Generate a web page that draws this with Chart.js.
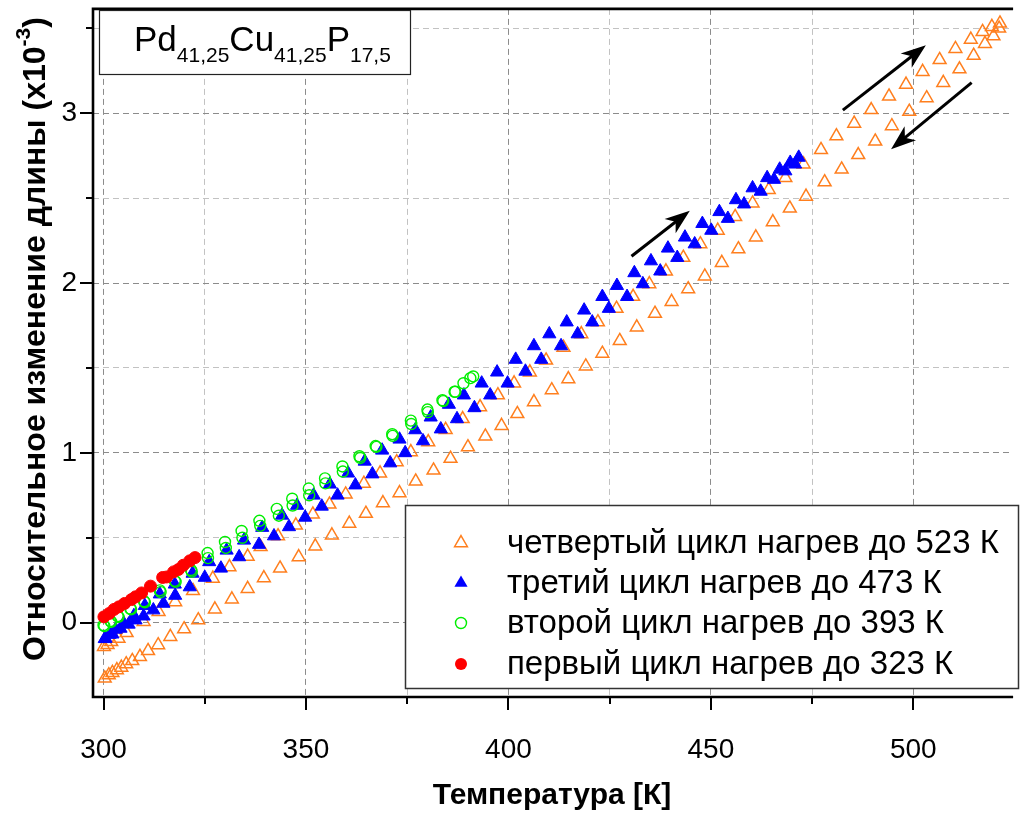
<!DOCTYPE html>
<html>
<head>
<meta charset="utf-8">
<title>Pd41,25Cu41,25P17,5</title>
<script src="https://cdn.jsdelivr.net/npm/chart.js@4.4.1/dist/chart.umd.min.js"></script>
<style>
  html, body { margin: 0; padding: 0; background: #fff; }
  #box { width: 1020px; height: 814px; }
</style>
</head>
<body>
<div id="box"><canvas id="myChart" width="1020" height="814"></canvas></div>
<script>
// --- dati (T in K, dL/L in 10^-3) ---
const xTicks = [300, 325, 350, 375, 400, 425, 450, 475, 500];
const yTicks = [0, 0.5, 1, 1.5, 2, 2.5, 3, 3.5];

const legendLabels = [
  'четвертый цикл нагрев до 523 К',
  'третий цикл нагрев до 473 К',
  'второй цикл нагрев до 393 К',
  'первый цикл нагрев до 323 К'
];

// quarto ciclo: riscaldamento + raffreddamento
const c4HeatT = [300.1, 301.0, 301.9, 303.7, 305.7, 309.9, 313.6, 317.7, 322.1, 327.0, 331.1, 335.6, 338.8, 343.1, 347.5, 351.7, 355.8, 359.8, 364.3, 368.3, 372.4, 375.9, 380.2, 384.5, 388.7, 393.0, 397.4, 401.4, 405.3, 409.3, 413.6, 418.0, 422.1, 426.7, 430.8, 434.8, 438.9, 443.2, 447.4, 451.7, 456.0, 460.3, 464.3, 468.4, 472.9, 477.2, 481.0, 485.4, 489.6, 494.0, 498.2, 502.3, 506.5, 510.4, 514.2, 517.1, 519.4, 521.4];
const c4HeatL = [-0.142, -0.13, -0.113, -0.093, -0.06, 0.005, 0.064, 0.122, 0.187, 0.26, 0.328, 0.39, 0.446, 0.51, 0.574, 0.638, 0.697, 0.756, 0.819, 0.88, 0.946, 1.005, 1.064, 1.136, 1.20, 1.27, 1.34, 1.41, 1.475, 1.545, 1.62, 1.70, 1.77, 1.85, 1.92, 1.995, 2.07, 2.15, 2.23, 2.31, 2.39, 2.47, 2.55, 2.62, 2.70, 2.785, 2.866, 2.94, 3.02, 3.10, 3.17, 3.245, 3.315, 3.38, 3.435, 3.48, 3.51, 3.53];
const c4CoolT = [521.2, 519.8, 517.7, 514.9, 511.4, 507.4, 503.3, 499.0, 494.7, 490.6, 486.4, 482.3, 478.1, 473.5, 469.5, 465.3, 461.1, 456.8, 452.7, 448.5, 444.4, 440.3, 436.2, 431.7, 427.5, 423.2, 419.1, 414.8, 410.7, 406.3, 402.2, 398.3, 394.3, 390.0, 385.7, 381.5, 377.1, 373.1, 369.0, 364.8, 360.7, 356.4, 352.3, 348.2, 343.6, 339.6, 335.6, 331.7, 327.5, 323.4, 319.9, 316.5, 313.5, 311.0, 309.0, 307.1, 305.6, 304.4, 303.3, 302.2, 301.3, 300.3];
const c4CoolL = [3.50, 3.455, 3.41, 3.34, 3.26, 3.18, 3.09, 3.01, 2.925, 2.835, 2.755, 2.67, 2.595, 2.51, 2.44, 2.36, 2.27, 2.20, 2.12, 2.04, 1.965, 1.89, 1.82, 1.74, 1.66, 1.585, 1.51, 1.435, 1.37, 1.30, 1.23, 1.16, 1.097, 1.034, 0.966, 0.897, 0.832, 0.764, 0.705, 0.642, 0.584, 0.515, 0.45, 0.387, 0.32, 0.263, 0.20, 0.138, 0.079, 0.015, -0.038, -0.083, -0.132, -0.166, -0.201, -0.225, -0.244, -0.264, -0.279, -0.295, -0.309, -0.328];

// terzo ciclo
const c3HeatT = [300.3, 301.5, 303.0, 305.0, 307.5, 310.2, 313.9, 317.6, 322.0, 326.1, 330.4, 334.7, 339.2, 344.1, 347.8, 351.9, 355.9, 360.4, 364.5, 368.8, 373.1, 377.0, 380.8, 385.3, 389.0, 393.4, 397.2, 401.8, 406.3, 410.1, 414.4, 418.7, 423.2, 426.8, 431.1, 435.2, 439.4, 443.6, 447.9, 452.1, 456.2, 460.3, 463.9, 467.0, 469.6, 471.7];
const c3HeatL = [-0.095, -0.07, -0.04, -0.005, 0.04, 0.10, 0.168, 0.226, 0.29, 0.358, 0.426, 0.485, 0.56, 0.632, 0.69, 0.75, 0.815, 0.88, 0.95, 1.015, 1.08, 1.135, 1.21, 1.285, 1.34, 1.41, 1.475, 1.55, 1.63, 1.70, 1.77, 1.84, 1.92, 1.985, 2.06, 2.13, 2.205, 2.27, 2.35, 2.42, 2.49, 2.56, 2.62, 2.67, 2.71, 2.74];
const c3CoolT = [470.8, 468.4, 465.6, 462.3, 458.2, 454.2, 450.1, 446.0, 441.7, 437.5, 433.2, 429.3, 424.8, 420.7, 417.1, 413.0, 408.1, 404.2, 399.8, 395.5, 391.6, 387.3, 383.3, 378.9, 374.5, 370.8, 366.4, 362.2, 357.8, 353.9, 349.8, 345.8, 342.1, 338.4, 333.5, 329.0, 325.0, 321.3, 317.7, 314.8, 312.3, 309.9, 307.9, 306.2, 304.2, 302.2, 300.5];
const c3CoolL = [2.70, 2.66, 2.61, 2.54, 2.465, 2.38, 2.31, 2.23, 2.15, 2.07, 1.995, 1.92, 1.85, 1.77, 1.70, 1.63, 1.55, 1.48, 1.41, 1.34, 1.265, 1.2, 1.14, 1.07, 1.0, 0.94, 0.875, 0.81, 0.75, 0.685, 0.62, 0.564, 0.51, 0.46, 0.387, 0.32, 0.266, 0.21, 0.16, 0.113, 0.074, 0.038, 0.015, -0.01, -0.034, -0.068, -0.093];

// secondo ciclo
const c2HeatT = [300.0, 301.7, 303.5, 306.6, 310.0, 313.9, 317.6, 321.6, 325.7, 330.0, 334.1, 338.5, 342.8, 346.6, 350.7, 354.7, 359.0, 363.2, 367.2, 371.3, 375.9, 380.0, 383.7, 386.7, 388.9, 391.3];
const c2HeatL = [-0.015, 0.009, 0.038, 0.083, 0.126, 0.19, 0.246, 0.31, 0.41, 0.475, 0.54, 0.60, 0.67, 0.73, 0.79, 0.85, 0.92, 0.98, 1.04, 1.11, 1.19, 1.255, 1.31, 1.36, 1.41, 1.45];
const c2CoolT = [390.6, 386.9, 383.9, 380.1, 376.0, 371.4, 367.4, 363.4, 359.1, 354.8, 350.8, 346.7, 343.3, 338.7, 334.3, 330.2, 325.8, 321.8, 317.8, 314.1, 310.2, 306.8, 303.7, 301.9, 300.2];
const c2CoolL = [1.44, 1.36, 1.305, 1.24, 1.17, 1.10, 1.035, 0.97, 0.89, 0.82, 0.75, 0.69, 0.63, 0.57, 0.50, 0.44, 0.38, 0.30, 0.24, 0.18, 0.12, 0.078, 0.034, 0.005, -0.02];

// primo ciclo
const c1T = [300.1, 301.4, 302.6, 303.8, 305.2, 306.9, 307.9, 309.4, 311.6, 314.6, 315.6, 317.3, 318.5, 319.7, 321.3, 322.6];
const c1L = [0.034, 0.054, 0.078, 0.093, 0.113, 0.136, 0.152, 0.175, 0.215, 0.266, 0.269, 0.299, 0.313, 0.338, 0.364, 0.383];

// frecce (coordinate nei dati): [T1, L1, T2, L2]
const arrows = [
  [430.4, 2.158, 444.8, 2.426],
  [482.6, 3.019, 503.1, 3.401],
  [514.4, 3.181, 494.5, 2.789]
];

const FONT = 'Liberation Sans';
const ORANGE = '#ff7f1e';
const BLUE = '#0000ff';
const GREEN = '#00ee00';
const RED = '#ff0000';

function toPoints(ts, ls) {
  return ts.map((t, i) => ({ x: t, y: ls[i] }));
}

function drawTriangle(ctx, x, y, r, fill) {
  ctx.beginPath();
  ctx.moveTo(x, y - r);
  ctx.lineTo(x + r * 0.866, y + r * 0.5);
  ctx.lineTo(x - r * 0.866, y + r * 0.5);
  ctx.closePath();
  if (fill) ctx.fill(); else ctx.stroke();
}

function drawCircle(ctx, x, y, r, fill) {
  ctx.beginPath();
  ctx.arc(x, y, r, 0, Math.PI * 2);
  if (fill) ctx.fill(); else ctx.stroke();
}

function drawArrow(ctx, x1, y1, x2, y2) {
  const a = Math.atan2(y2 - y1, x2 - x1);
  const L = 25, W = 9;
  const cos = Math.cos(a), sin = Math.sin(a);
  ctx.beginPath();
  ctx.moveTo(x1, y1);
  ctx.lineTo(x2 - cos * L * 0.6, y2 - sin * L * 0.6);
  ctx.stroke();
  ctx.beginPath();
  ctx.moveTo(x2, y2);
  ctx.lineTo(x2 - cos * L - sin * W, y2 - sin * L + cos * W);
  ctx.lineTo(x2 - cos * L * 0.72, y2 - sin * L * 0.72);
  ctx.lineTo(x2 - cos * L + sin * W, y2 - sin * L - cos * W);
  ctx.closePath();
  ctx.fill();
}

// cornice, tacche, frecce, etichetta e legenda
const framePlugin = {
  id: 'frame',
  afterDatasetsDraw(chart) {
    const ctx = chart.ctx;
    const a = chart.chartArea;
    const xs = chart.scales.x, ys = chart.scales.y;
    ctx.save();
    ctx.strokeStyle = '#000';
    ctx.fillStyle = '#000';

    // frecce
    ctx.lineWidth = 3;
    arrows.forEach(r => {
      drawArrow(ctx, xs.getPixelForValue(r[0]), ys.getPixelForValue(r[1]),
                     xs.getPixelForValue(r[2]), ys.getPixelForValue(r[3]));
    });

    // assi
    ctx.lineWidth = 2.6;
    ctx.beginPath();
    ctx.moveTo(a.left, a.top); ctx.lineTo(a.right + 2, a.top);
    ctx.moveTo(a.left, a.top - 1.3); ctx.lineTo(a.left, a.bottom + 1.3);
    ctx.moveTo(a.left - 1.3, a.bottom); ctx.lineTo(a.right + 2, a.bottom);
    ctx.stroke();
    ctx.lineWidth = 2;
    ctx.beginPath();
    xTicks.forEach(v => {
      const px = Math.round(xs.getPixelForValue(v));
      const len = v % 50 === 0 ? 13 : 7;
      ctx.moveTo(px, a.bottom); ctx.lineTo(px, a.bottom + len);
    });
    yTicks.forEach(v => {
      const py = Math.round(ys.getPixelForValue(v));
      const len = Number.isInteger(v) ? 13 : 7;
      ctx.moveTo(a.left, py); ctx.lineTo(a.left - len, py);
    });
    ctx.stroke();

    // riquadro con la composizione
    ctx.fillStyle = '#fff';
    ctx.fillRect(99, 10, 311, 64);
    ctx.lineWidth = 1.2;
    ctx.strokeStyle = '#222';
    ctx.strokeRect(99.5, 10.5, 311, 64);
    ctx.fillStyle = '#000';
    ctx.textBaseline = 'alphabetic';
    ctx.textAlign = 'left';
    const parts = [['Pd', 0], ['41,25', 1], ['Cu', 0], ['41,25', 1], ['P', 0], ['17,5', 1]];
    let tx = 134;
    parts.forEach(p => {
      ctx.font = p[1] ? '21px "' + FONT + '"' : '35px "' + FONT + '"';
      ctx.fillText(p[0], tx, p[1] ? 62 : 51);
      tx += ctx.measureText(p[0]).width;
    });

    // legenda
    const lx = 405, ly = 505, lw = 613, lh = 183;
    ctx.fillStyle = '#fff';
    ctx.fillRect(lx, ly, lw, lh);
    ctx.strokeStyle = '#333';
    ctx.lineWidth = 1.5;
    ctx.strokeRect(lx + 0.5, ly + 0.5, lw, lh);
    const rows = [543, 583, 623, 664];
    ctx.font = '33px "' + FONT + '"';
    ctx.textBaseline = 'middle';
    rows.forEach((ry, i) => {
      const ds = chart.data.datasets[i];
      ctx.lineWidth = ds.pointBorderWidth;
      ctx.strokeStyle = ds.pointBorderColor;
      ctx.fillStyle = ds.pointBorderColor;
      if (ds.pointStyle === 'triangle') {
        drawTriangle(ctx, 461, ry, ds.pointRadius, i === 1);
      } else {
        drawCircle(ctx, 461, ry, ds.pointRadius, i === 3);
      }
      ctx.fillStyle = '#000';
      ctx.fillText(ds.label, 507, ry + 1);
    });

    // titolo asse y con esponente
    ctx.save();
    ctx.translate(33, 339);
    ctx.rotate(-Math.PI / 2);
    ctx.textBaseline = 'alphabetic';
    const main = 'Относительное изменение длины (x10', sup = '-3', tail = ')';
    ctx.font = 'bold 32px "' + FONT + '"';
    const w1 = ctx.measureText(main).width, w3 = ctx.measureText(tail).width;
    ctx.font = 'bold 21px "' + FONT + '"';
    const w2 = ctx.measureText(sup).width;
    let sx = -(w1 + w2 + w3) / 2;
    ctx.fillStyle = '#000';
    ctx.font = 'bold 32px "' + FONT + '"';
    ctx.fillText(main, sx, 12); sx += w1;
    ctx.font = 'bold 21px "' + FONT + '"';
    ctx.fillText(sup, sx, -3); sx += w2;
    ctx.font = 'bold 32px "' + FONT + '"';
    ctx.fillText(tail, sx, 12);
    ctx.restore();

    ctx.restore();
  }
};

const ctx = document.getElementById('myChart').getContext('2d');
const myChart = new Chart(ctx, {
  type: 'scatter',
  data: {
    datasets: [
      { label: legendLabels[0], data: toPoints(c4HeatT, c4HeatL).concat(toPoints(c4CoolT, c4CoolL)),
        pointStyle: 'triangle', pointRadius: 7.4, pointBackgroundColor: 'rgba(0,0,0,0)',
        pointBorderColor: ORANGE, pointBorderWidth: 1.5, order: 4 },
      { label: legendLabels[1], data: toPoints(c3HeatT, c3HeatL).concat(toPoints(c3CoolT, c3CoolL)),
        pointStyle: 'triangle', pointRadius: 7.6, pointBackgroundColor: BLUE,
        pointBorderColor: BLUE, pointBorderWidth: 1, order: 3 },
      { label: legendLabels[2], data: toPoints(c2HeatT, c2HeatL).concat(toPoints(c2CoolT, c2CoolL)),
        pointStyle: 'circle', pointRadius: 5.5, pointBackgroundColor: 'rgba(0,0,0,0)',
        pointBorderColor: GREEN, pointBorderWidth: 1.4, order: 2 },
      { label: legendLabels[3], data: toPoints(c1T, c1L),
        pointStyle: 'circle', pointRadius: 6, pointBackgroundColor: RED,
        pointBorderColor: RED, pointBorderWidth: 1, order: 1 }
    ]
  },
  options: {
    responsive: false,
    animation: false,
    layout: { padding: { top: 8, right: 0, bottom: 0, left: 0 } },
    plugins: { legend: { display: false }, tooltip: { enabled: false } },
    scales: {
      x: {
        type: 'linear', min: 297.4, max: 524.15,
        afterBuildTicks: s => { s.ticks = xTicks.map(v => ({ value: v })); },
        afterFit: s => { s.height = 117; s.paddingLeft = 0; s.paddingRight = 0; },
        grid: { color: c => (c.tick && c.tick.value % 50 === 0) ? '#8c8c8c' : '#c2c2c2', lineWidth: 1, drawTicks: false },
        border: { display: false, dash: [6, 4] },
        ticks: { callback: v => (v % 50 === 0 ? String(v) : ''), autoSkip: false, maxRotation: 0,
                 font: { family: FONT, size: 28 }, color: '#000', padding: 36 },
        title: { display: true, text: 'Температура [К]', color: '#000',
                 font: { family: FONT, size: 30, weight: 'bold' }, padding: { top: 0, bottom: 0 } }
      },
      y: {
        type: 'linear', min: -0.438, max: 3.615,
        afterBuildTicks: s => { s.ticks = yTicks.map(v => ({ value: v })); },
        afterFit: s => { s.width = 93; s.paddingTop = 0; s.paddingBottom = 0; },
        grid: { color: c => (c.tick && Number.isInteger(c.tick.value)) ? '#8c8c8c' : '#c2c2c2', lineWidth: 1, drawTicks: false },
        border: { display: false, dash: [6, 4] },
        ticks: { callback: v => (Number.isInteger(v) ? String(v) : ''), autoSkip: false,
                 font: { family: FONT, size: 28 }, color: '#000', padding: 16 }
      }
    }
  },
  plugins: [framePlugin]
});
</script>
</body>
</html>
